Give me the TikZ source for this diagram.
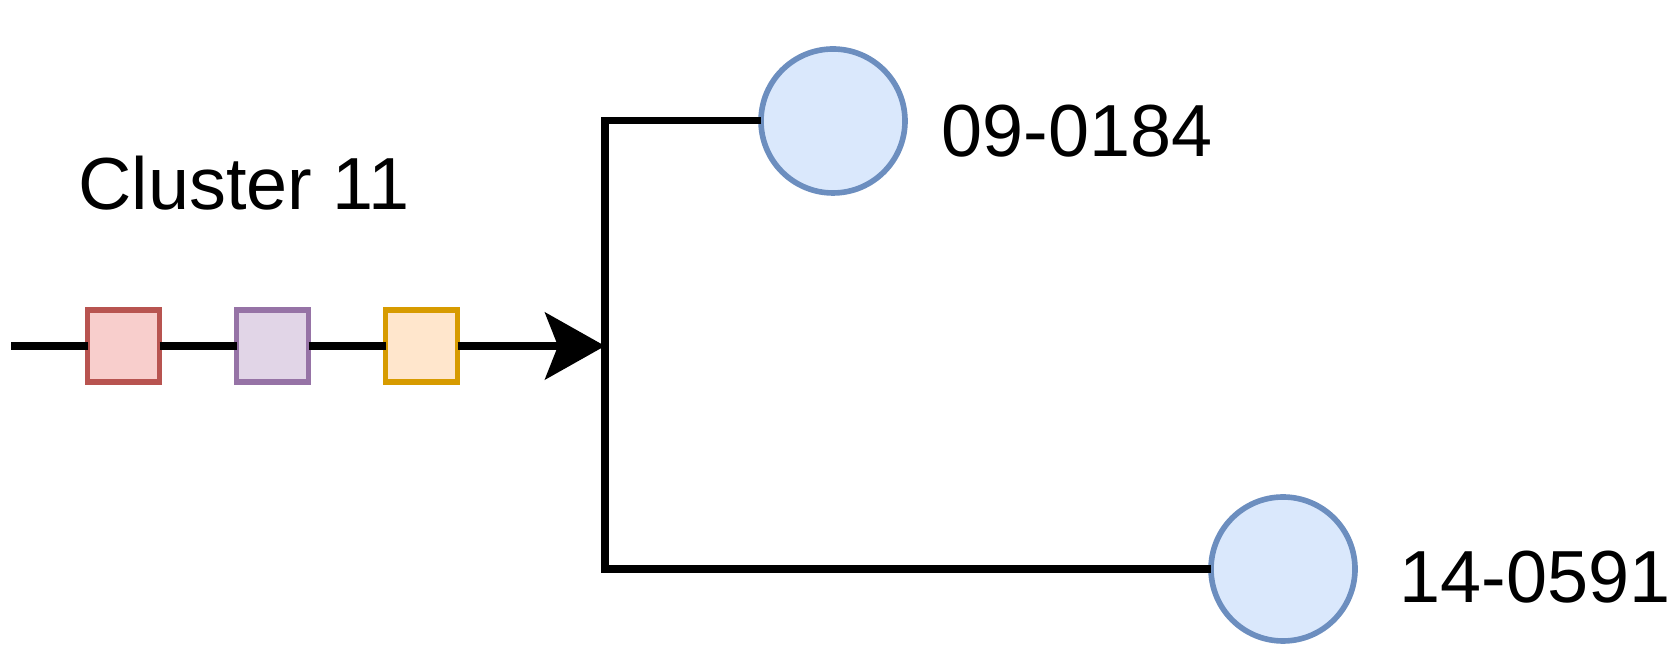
\documentclass[tikz,border=0pt]{standalone}
\usepackage{fontspec}
\setmainfont{Liberation Sans}
\usepackage{tikz}
\newcommand{\boxsize}{0.72cm}
\newcommand{\leafsize}{1.44cm}
\definecolor{redFill}{HTML}{F8CECC}
\definecolor{redDraw}{HTML}{B85450}
\definecolor{purpleFill}{HTML}{E1D5E7}
\definecolor{purpleDraw}{HTML}{9673A6}
\definecolor{orangeFill}{HTML}{FFE6CC}
\definecolor{orangeDraw}{HTML}{D79B00}
\definecolor{blueFill}{HTML}{DAE8FC}
\definecolor{blueDraw}{HTML}{6C8EBF}
\usetikzlibrary{arrows.meta,calc,positioning}
\tikzset{
  >={Stealth[length=6mm,width=6.7mm,inset=1.3mm]},
  font=\fontsize{21pt}{25pt}\selectfont,
  node distance=0.77cm,
  sbox/.style={draw,line width=1.6pt,shape=rectangle,minimum size=\boxsize,inner sep=0,outer sep=0},
  leaf/.style={draw=blueDraw,fill=blueFill,line width=1.6pt,shape=circle,minimum size=\leafsize,inner sep=0,outer sep=0},
  line/.style={draw,line width=2pt},
  tag/.style={inner sep=0,anchor=base west},
}

\begin{document}
\begin{tikzpicture}
      \useasboundingbox (0,0) rectangle (16.78,6.56);
      \coordinate (in) at (0.11,3.10);
      \node (r) [sbox,draw=redDraw,fill=redFill] at (1.236,3.10) {};
      \node (p) [sbox,draw=purpleDraw,fill=purpleFill,right=of r] {};
      \node (o) [sbox,draw=orangeDraw,fill=orangeFill,right=of p] {};
      \coordinate (j) at (6.05,3.10);
      \coordinate (jt) at (6.05,5.35);
      \coordinate (jb) at (6.05,0.87);
      \node (c1) [leaf] at (8.33,5.35) {};
      \node (c2) [leaf] at (12.83,0.87) {};
      \node (cl) [tag] at (0.78,4.46) {Cluster 11};
      \node (n1) [tag] at ($(c1.east)+(0.36,-0.36)$) {09-0184};
      \node (n2) [tag] at ($(c2.east)+(0.44,-0.34)$) {14-0591};
      \path [line] (in) -- (r);
      \path [line] (r) -- (p);
      \path [line] (p) -- (o);
      \path [line,->] (o) -- (j);
      \path [line] (c1) -- (jt) -- (jb) -- (c2);
    \end{tikzpicture}
\end{document}
